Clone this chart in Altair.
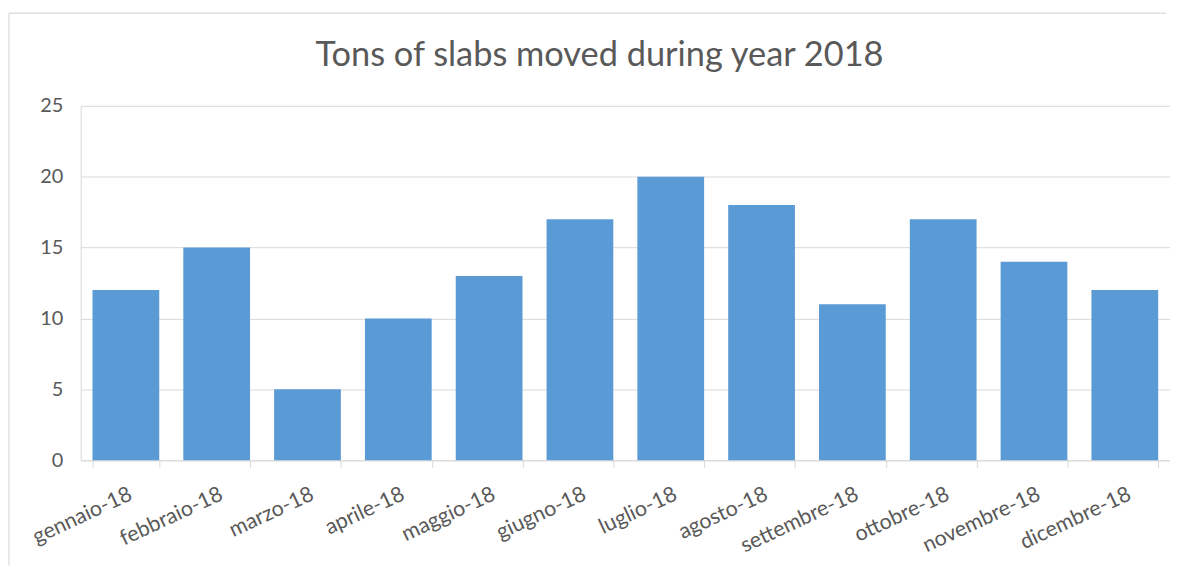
import altair as alt
import pandas as pd

title_text = "Tons of slabs moved during year 2018"
months = ["gennaio-18", "febbraio-18", "marzo-18", "aprile-18", "maggio-18", "giugno-18",
          "luglio-18", "agosto-18", "settembre-18", "ottobre-18", "novembre-18", "dicembre-18"]
tons = [12, 15, 5, 10, 13, 17, 20, 18, 11, 17, 14, 12]
y_ticks = [0, 5, 10, 15, 20, 25]

W, H = 1094, 356
FONT = "Lato"
GREY = "#595959"
LINE = "#d9d9d9"

df = pd.DataFrame({"month": months, "tons": tons})

bars = alt.Chart(df).mark_bar(color="#5B9BD5").encode(
    x=alt.X("month:N", sort=months, title=None,
            scale=alt.Scale(paddingInner=0.265, paddingOuter=0.13),
            axis=alt.Axis(labelAngle=-25, labelAlign="right", labelBaseline="top",
                          labelPadding=16, tickBand="extent", tickSize=7, tickColor=LINE,
                          domainColor=LINE, labelFont=FONT, labelFontSize=21.5,
                          labelColor=GREY, grid=False)),
    y=alt.Y("tons:Q", title=None,
            scale=alt.Scale(domain=[0, 25], nice=False),
            axis=alt.Axis(values=y_ticks, ticks=False, domain=True, domainColor=LINE,
                          gridColor=LINE, labelPadding=18, labelFont=FONT,
                          labelFontSize=20, labelColor=GREY)),
)

frame_df = pd.DataFrame({"a": [0]})
left_rule = alt.Chart(frame_df).mark_rule(color=LINE, strokeWidth=1.2).encode(
    x=alt.value(-72), y=alt.value(-93), y2=alt.value(H + 106))
top_rule = alt.Chart(frame_df).mark_rule(color=LINE, strokeWidth=1.2).encode(
    x=alt.value(-72), x2=alt.value(W - 4), y=alt.value(-93))

title_df = pd.DataFrame({"t": [title_text]})
title = alt.Chart(title_df).mark_text(
    font=FONT, fontSize=34.5, color=GREY, align="center", baseline="alphabetic"
).encode(text="t:N", x=alt.value(W / 2 - 26), y=alt.value(-40))

chart = alt.layer(bars, left_rule, top_rule, title).properties(
    width=W, height=H,
    padding={"left": 0, "top": 3, "right": 0, "bottom": 0},
).configure_view(stroke=None).configure_axis(gridWidth=1)

chart.save("out.html", embed_options={"renderer": "svg", "actions": False})
